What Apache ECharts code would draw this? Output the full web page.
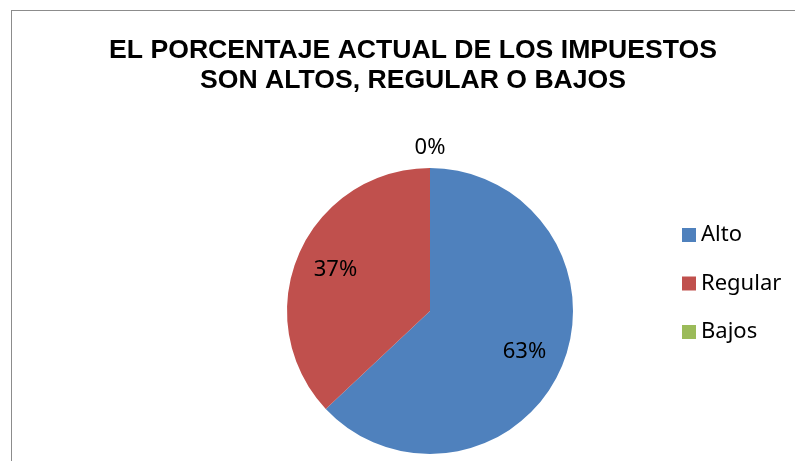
<!DOCTYPE html>
<html>
<head>
<meta charset="utf-8">
<script src="https://cdn.jsdelivr.net/npm/echarts@6/dist/echarts.min.js"></script>
<style>
  html, body { margin: 0; padding: 0; background: #fff; }
  .frame {
    position: absolute; left: 11px; top: 10px; width: 820px; height: 480px;
    border: 1px solid #8c8c8c;
  }
  #chart { position: absolute; left: 0; top: 0; width: 795px; height: 461px; }
</style>
</head>
<body>
<div class="frame"></div>
<div id="chart"></div>
<script>
// datos del gráfico
const categories = ["Alto", "Regular", "Bajos"];
const values = [63, 37, 0];
const colors = ["#4F81BD", "#C0504D", "#9BBB59"];
const titleText = "EL PORCENTAJE ACTUAL DE LOS IMPUESTOS\nSON ALTOS, REGULAR O BAJOS";

const center = [430, 311];
const radius = 143;

const total = values.reduce((a, b) => a + b, 0);

// ángulo medio de cada porción (desde arriba, sentido horario)
const midAngle = (i) => {
  let before = 0;
  for (let k = 0; k < i; k++) before += values[k];
  const frac = (before + values[i] / 2) / total;
  return (90 - 360 * frac) * Math.PI / 180;
};

const chart = echarts.init(document.getElementById("chart"));

chart.setOption({
  animation: false,
  title: {
    text: titleText,
    left: 408,
    top: 31,
    textAlign: "center",
    textStyle: {
      fontFamily: "Liberation Sans",
      fontSize: 26.6,
      fontWeight: "bold",
      lineHeight: 30,
      color: "#000",
    },
  },
  legend: {
    orient: "vertical",
    left: 677,
    top: 219,
    itemWidth: 14,
    itemHeight: 14,
    itemGap: 26.5,
    icon: "rect",
    data: categories,
    textStyle: {
      fontFamily: "Noto Sans",
      fontSize: 22,
      lineHeight: 22,
      color: "#000",
    },
  },
  series: [
    {
      type: "pie",
      center: center,
      radius: radius,
      startAngle: 90,
      clockwise: true,
      avoidLabelOverlap: false,
      stillShowZeroSum: true,
      color: colors,
      label: {
        show: true,
        position: "outside",
        formatter: (p) => Math.round(p.value) + "%",
        fontFamily: "Noto Sans",
        fontSize: 22,
        color: "#000",
      },
      labelLine: { show: false },
      labelLayout: (p) => {
        const a = midAngle(p.dataIndex);
        // etiqueta interior para porciones con valor, exterior si es 0
        const k = values[p.dataIndex] > 0 ? 0.72 : 1.14;
        return {
          x: center[0] + k * radius * Math.cos(a),
          y: center[1] - k * radius * Math.sin(a),
          align: "center",
          verticalAlign: "middle",
        };
      },
      data: categories.map((name, i) => ({ name: name, value: values[i] })),
    },
  ],
});
</script>
</body>
</html>
